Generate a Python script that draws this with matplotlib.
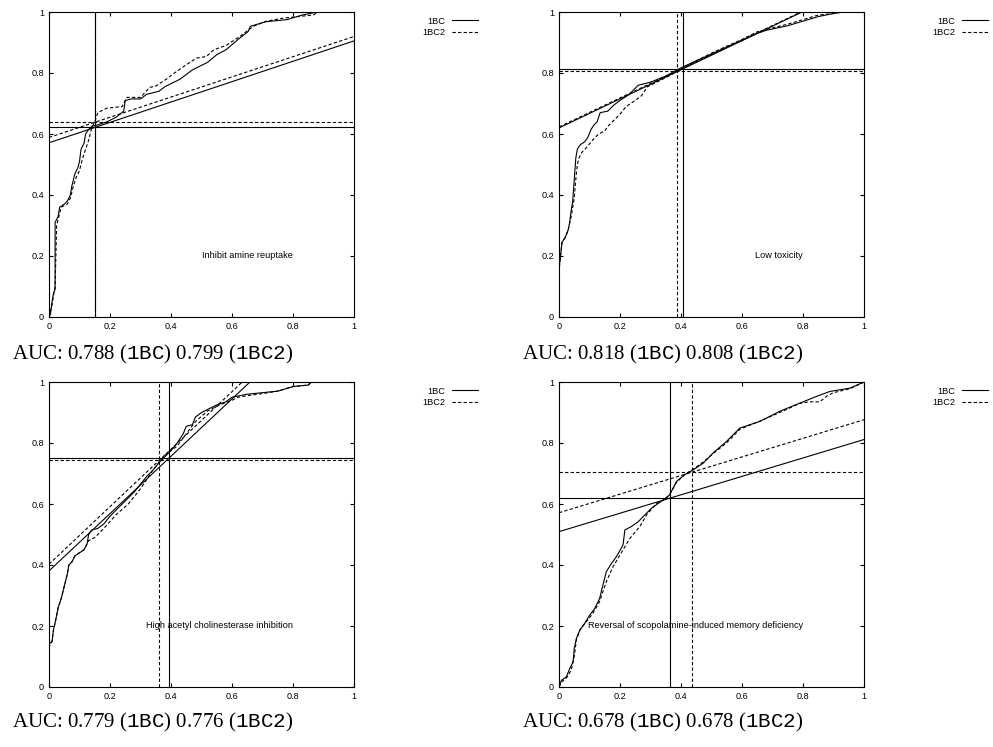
import numpy as np
import matplotlib
matplotlib.use("Agg")
import matplotlib.pyplot as plt
from matplotlib.lines import Line2D

plt.rcParams['font.family'] = ['Liberation Sans', 'DejaVu Sans']
plt.rcParams['mathtext.fontset'] = 'custom'
plt.rcParams['mathtext.rm'] = 'Liberation Serif'
plt.rcParams['mathtext.tt'] = 'Liberation Mono'

# ---- panel 1: Inhibit amine reuptake ----
p1_x_1bc = [0, 0.005, 0.01, 0.015, 0.02, 0.02, 0.03, 0.035, 0.05, 0.06, 0.07, 0.075, 0.085, 0.095,
            0.1, 0.105, 0.115, 0.12, 0.13, 0.14, 0.16, 0.19, 0.22, 0.245, 0.25, 0.27, 0.30, 0.32,
            0.36, 0.38, 0.40, 0.43, 0.47, 0.52, 0.55, 0.58, 0.626, 0.653, 0.66, 0.71, 0.78, 0.83,
            0.88, 1.0]
p1_y_1bc = [0, 0.01, 0.05, 0.08, 0.09, 0.31, 0.33, 0.36, 0.37, 0.38, 0.40, 0.43, 0.47, 0.49,
            0.51, 0.55, 0.57, 0.60, 0.615, 0.625, 0.63, 0.64, 0.655, 0.675, 0.71, 0.715, 0.715, 0.73,
            0.74, 0.755, 0.765, 0.78, 0.81, 0.835, 0.86, 0.876, 0.915, 0.936, 0.953, 0.968, 0.975, 0.99,
            1.0, 1.0]
p1_x_1bc2 = [0, 0.01, 0.02, 0.025, 0.035, 0.04, 0.06, 0.07, 0.08, 0.09, 0.1, 0.11, 0.12, 0.13,
             0.14, 0.15, 0.16, 0.19, 0.24, 0.255, 0.30, 0.33, 0.35, 0.385, 0.418, 0.45, 0.484,
             0.516, 0.54, 0.58, 0.626, 0.67, 0.713, 0.768, 0.866, 0.883, 1.0]
p1_y_1bc2 = [0, 0.04, 0.10, 0.30, 0.34, 0.36, 0.37, 0.39, 0.43, 0.46, 0.48, 0.52, 0.55, 0.58,
             0.62, 0.64, 0.67, 0.685, 0.69, 0.72, 0.72, 0.753, 0.757, 0.78, 0.805, 0.827, 0.849,
             0.854, 0.876, 0.89, 0.92, 0.953, 0.97, 0.98, 0.99, 1.0, 1.0]

# ---- panel 2: Low toxicity ----
p2_x_1bc = [0, 0, 0.005, 0.01, 0.02, 0.03, 0.035, 0.04, 0.045, 0.05, 0.055, 0.06, 0.07, 0.085,
            0.095, 0.105, 0.115, 0.125, 0.135, 0.16, 0.18, 0.2, 0.23, 0.26, 0.3, 0.35, 0.4, 0.45,
            0.5, 0.55, 0.6, 0.65, 0.68, 0.75, 0.8, 0.85, 0.9, 0.93, 1.0]
p2_y_1bc = [0, 0.16, 0.20, 0.245, 0.26, 0.285, 0.31, 0.35, 0.38, 0.45, 0.52, 0.55, 0.565, 0.575,
            0.59, 0.615, 0.63, 0.64, 0.67, 0.675, 0.695, 0.71, 0.73, 0.76, 0.77, 0.79, 0.817, 0.84,
            0.862, 0.885, 0.907, 0.93, 0.94, 0.955, 0.97, 0.985, 0.995, 1.0, 1.0]
p2_x_1bc2 = [0, 0, 0.005, 0.01, 0.02, 0.03, 0.04, 0.05, 0.055, 0.06, 0.065, 0.075, 0.09, 0.11,
             0.13, 0.15, 0.16, 0.18, 0.2, 0.22, 0.25, 0.27, 0.29, 0.32, 0.36, 0.4, 0.45, 0.5,
             0.55, 0.6, 0.65, 0.7, 0.75, 0.8, 0.85, 0.9, 0.93, 1.0]
p2_y_1bc2 = [0, 0.15, 0.20, 0.245, 0.26, 0.285, 0.33, 0.39, 0.45, 0.50, 0.52, 0.54, 0.555, 0.58,
             0.60, 0.61, 0.625, 0.645, 0.665, 0.69, 0.71, 0.725, 0.755, 0.77, 0.79, 0.812, 0.84, 0.865,
             0.888, 0.91, 0.935, 0.948, 0.96, 0.975, 0.99, 0.995, 1.0, 1.0]

# ---- panel 3: High acetyl cholinesterase inhibition ----
p3_x_1bc = [0, 0, 0.01, 0.015, 0.02, 0.03, 0.04, 0.05, 0.06, 0.065, 0.075, 0.085, 0.1, 0.115,
            0.125, 0.13, 0.14, 0.16, 0.18, 0.2, 0.22, 0.24, 0.26, 0.28, 0.3, 0.32, 0.34, 0.36,
            0.38, 0.4, 0.42, 0.44, 0.45, 0.47, 0.48, 0.5, 0.52, 0.55, 0.58, 0.6, 0.65, 0.7, 0.75,
            0.8, 0.85, 0.86, 1.0]
p3_y_1bc = [0, 0.14, 0.15, 0.19, 0.21, 0.26, 0.29, 0.33, 0.37, 0.40, 0.41, 0.43, 0.44, 0.45,
            0.47, 0.50, 0.515, 0.52, 0.535, 0.56, 0.58, 0.60, 0.62, 0.64, 0.665, 0.69, 0.71, 0.735,
            0.755, 0.775, 0.80, 0.83, 0.855, 0.86, 0.885, 0.90, 0.91, 0.925, 0.935, 0.95, 0.96, 0.965,
            0.97, 0.985, 0.99, 1.0, 1.0]
p3_x_1bc2 = [0, 0, 0.01, 0.015, 0.02, 0.03, 0.04, 0.05, 0.06, 0.065, 0.075, 0.085, 0.1, 0.115,
             0.13, 0.15, 0.18, 0.22, 0.26, 0.3, 0.34, 0.38, 0.42, 0.45, 0.48, 0.52, 0.56, 0.6,
             0.62, 0.65, 0.7, 0.75, 0.8, 0.85, 0.86, 1.0]
p3_y_1bc2 = [0, 0.13, 0.15, 0.19, 0.21, 0.26, 0.29, 0.33, 0.37, 0.40, 0.41, 0.43, 0.44, 0.45,
             0.48, 0.49, 0.52, 0.565, 0.60, 0.65, 0.71, 0.76, 0.79, 0.83, 0.87, 0.905, 0.925, 0.94,
             0.95, 0.955, 0.962, 0.97, 0.985, 0.99, 1.0, 1.0]

# ---- panel 4: Reversal of scopolamine-induced memory deficiency ----
p4_x_1bc = [0, 0.008, 0.024, 0.035, 0.046, 0.05, 0.057, 0.068, 0.084, 0.1, 0.117, 0.133, 0.144,
            0.155, 0.172, 0.188, 0.21, 0.216, 0.237, 0.26, 0.276, 0.303, 0.341, 0.363, 0.385,
            0.412, 0.44, 0.473, 0.505, 0.549, 0.593, 0.659, 0.724, 0.79, 0.845, 0.888, 0.954, 1.0]
p4_y_1bc = [0, 0.022, 0.033, 0.06, 0.082, 0.126, 0.159, 0.186, 0.208, 0.235, 0.257, 0.29, 0.334,
            0.378, 0.405, 0.427, 0.466, 0.515, 0.526, 0.542, 0.559, 0.586, 0.613, 0.63, 0.674,
            0.696, 0.712, 0.734, 0.767, 0.805, 0.849, 0.871, 0.904, 0.931, 0.953, 0.969, 0.98, 1.0]
p4_x_1bc2 = [0, 0.01, 0.025, 0.04, 0.05, 0.057, 0.07, 0.09, 0.11, 0.133, 0.155, 0.177, 0.2,
             0.232, 0.265, 0.287, 0.32, 0.352, 0.363, 0.385, 0.412, 0.44, 0.473, 0.505, 0.549,
             0.593, 0.659, 0.724, 0.79, 0.82, 0.855, 0.88, 0.9, 0.954, 1.0]
p4_y_1bc2 = [0, 0.018, 0.03, 0.055, 0.1, 0.155, 0.19, 0.215, 0.24, 0.28, 0.345, 0.394, 0.433,
             0.487, 0.526, 0.564, 0.602, 0.619, 0.632, 0.67, 0.697, 0.714, 0.738, 0.765, 0.8,
             0.845, 0.872, 0.9, 0.93, 0.935, 0.935, 0.955, 0.965, 0.978, 1.0]

# operating point (x, y) and slope of the tangent line for 1BC / 1BC2
pt_x_1bc = [0.152, 0.405, 0.393, 0.363]
pt_y_1bc = [0.622, 0.813, 0.750, 0.619]
slope_1bc = [0.334, 0.477, 0.940, 0.302]
pt_x_1bc2 = [0.152, 0.387, 0.361, 0.435]
pt_y_1bc2 = [0.639, 0.807, 0.743, 0.704]
slope_1bc2 = [0.331, 0.475, 0.943, 0.305]

titles = ["Inhibit amine reuptake", "Low toxicity",
          "High acetyl cholinesterase inhibition",
          "Reversal of scopolamine-induced memory deficiency"]
auc_1bc = ["0.788", "0.818", "0.779", "0.678"]
auc_1bc2 = ["0.799", "0.808", "0.776", "0.678"]

curves = [(p1_x_1bc, p1_y_1bc, p1_x_1bc2, p1_y_1bc2),
          (p2_x_1bc, p2_y_1bc, p2_x_1bc2, p2_y_1bc2),
          (p3_x_1bc, p3_y_1bc, p3_x_1bc2, p3_y_1bc2),
          (p4_x_1bc, p4_y_1bc, p4_x_1bc2, p4_y_1bc2)]

W, H = 993, 747
fig = plt.figure(figsize=(W / 100, H / 100), dpi=100)

# axes boxes in pixels: left, top
boxes = [(49, 12), (559, 12), (49, 382), (559, 382)]
size = 305
caption_pos = [(12, 359), (522, 359), (12, 727), (522, 727)]

lw = 0.8
dash = (0, (3, 2))
fs = 6.6

for i in range(4):
    left, top = boxes[i]
    ax = fig.add_axes([left / W, 1 - (top + size) / H, size / W, size / H])
    xa, ya, xb, yb = curves[i]

    ax.plot(xa, ya, color='black', lw=lw)
    ax.plot(xb, yb, color='black', lw=lw, linestyle=dash)

    # tangent lines through the operating point
    xx = np.array([0.0, 1.0])
    ax.plot(xx, pt_y_1bc[i] + slope_1bc[i] * (xx - pt_x_1bc[i]), color='black', lw=lw)
    ax.plot(xx, pt_y_1bc2[i] + slope_1bc2[i] * (xx - pt_x_1bc2[i]), color='black', lw=lw,
            linestyle=dash)

    ax.axhline(pt_y_1bc[i], color='black', lw=lw)
    ax.axvline(pt_x_1bc[i], color='black', lw=lw)
    ax.axhline(pt_y_1bc2[i], color='black', lw=lw, linestyle=dash)
    ax.axvline(pt_x_1bc2[i], color='black', lw=lw, linestyle=dash)

    ax.text(0.8, 0.2, titles[i], ha='right', va='center', fontsize=fs)

    ax.set_xlim(0, 1)
    ax.set_ylim(0, 1)
    ticks = [0, 0.2, 0.4, 0.6, 0.8, 1]
    ax.set_xticks(ticks)
    ax.set_yticks(ticks)
    ax.set_xticklabels(['%g' % t for t in ticks])
    ax.set_yticklabels(['%g' % t for t in ticks])
    ax.tick_params(direction='in', length=3, width=lw, top=True, right=True,
                   labelsize=fs, pad=3.5)
    for s in ax.spines.values():
        s.set_linewidth(lw)

    handles = [Line2D([], [], color='black', lw=lw),
               Line2D([], [], color='black', lw=lw, linestyle=dash)]
    ax.legend(handles, ['1BC', '1BC2'], loc='upper right', bbox_to_anchor=(1.407, 0.985),
              frameon=False, markerfirst=False, fontsize=fs, handlelength=2.85,
              handletextpad=0.75, borderpad=0, borderaxespad=0, labelspacing=0.3)

    cx, cy = caption_pos[i]
    fig.text(cx / W, 1 - cy / H,
             r"AUC: %s ($\mathtt{1BC}$) %s ($\mathtt{1BC2}$)" % (auc_1bc[i], auc_1bc2[i]),
             family='Liberation Serif', fontsize=15, va='baseline', ha='left')

plt.savefig('out.png', dpi=100)
